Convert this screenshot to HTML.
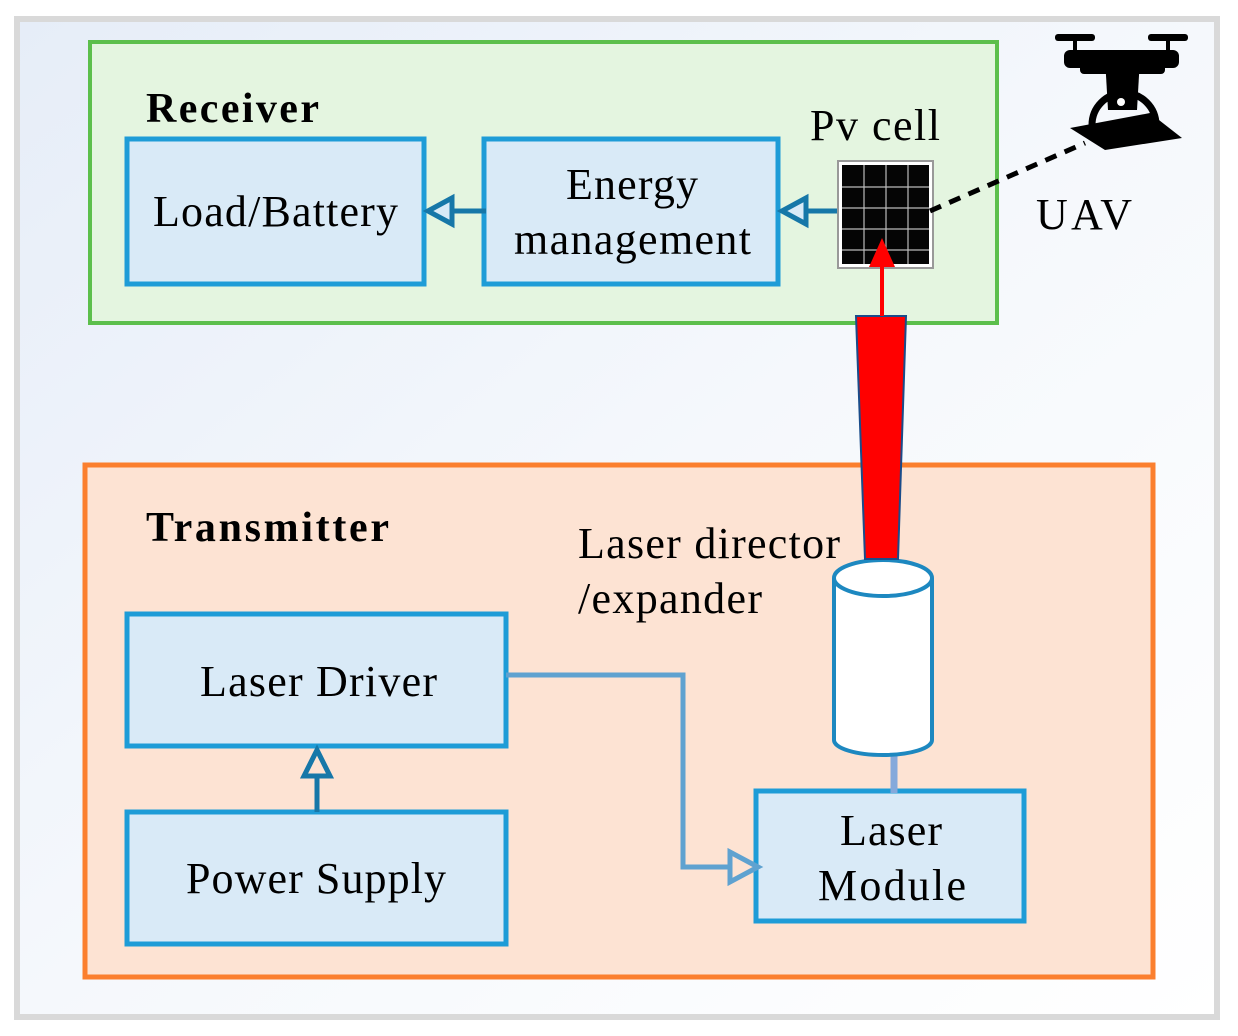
<!DOCTYPE html>
<html><head><style>
html,body{margin:0;padding:0;background:#fff;}
svg{display:block;}
text{font-family:"Liberation Serif",serif;fill:#000;}
</style></head><body>
<svg width="1238" height="1036" viewBox="0 0 1238 1036" xmlns="http://www.w3.org/2000/svg">
<defs>
<linearGradient id="bg" x1="0" y1="0" x2="1" y2="1">
<stop offset="0" stop-color="#e6edf8"/><stop offset="0.5" stop-color="#f5f8fc"/><stop offset="1" stop-color="#ffffff"/>
</linearGradient>
</defs>
<rect x="0" y="0" width="1238" height="1036" fill="#fff"/>
<rect x="17" y="19" width="1200" height="998" fill="url(#bg)" stroke="#d9d9d9" stroke-width="6"/>
<!-- Receiver -->
<rect x="90" y="42" width="907" height="281" fill="#e4f5e0" stroke="#5cbf4c" stroke-width="4"/>
<text x="146" y="122" font-size="42" font-weight="bold" textLength="173" lengthAdjust="spacing">Receiver</text>
<rect x="127" y="139" width="297" height="145" fill="#d9eaf7" stroke="#1e9cd7" stroke-width="5"/>
<text x="153" y="226" font-size="44" textLength="245" lengthAdjust="spacing">Load/Battery</text>
<rect x="484" y="139" width="294" height="145" fill="#d9eaf7" stroke="#1e9cd7" stroke-width="5"/>
<text x="566" y="199" font-size="44" textLength="132" lengthAdjust="spacing">Energy</text>
<text x="514" y="254" font-size="44" textLength="237" lengthAdjust="spacing">management</text>
<text x="810" y="140" font-size="44" textLength="130" lengthAdjust="spacing">Pv cell</text>
<!-- arrows receiver -->
<line x1="486" y1="211" x2="452" y2="211" stroke="#1677a8" stroke-width="5"/>
<polygon points="428,211 452,198 452,224" fill="#d9eaf7" stroke="#1677a8" stroke-width="5"/>
<line x1="840" y1="211" x2="806" y2="211" stroke="#1677a8" stroke-width="5"/>
<polygon points="782,211 806,198 806,224" fill="#d9eaf7" stroke="#1677a8" stroke-width="5"/>
<!-- PV cell -->
<rect x="838" y="161" width="95" height="107" fill="#fff" stroke="#999" stroke-width="2"/>
<rect x="842" y="165" width="87" height="99" fill="#050505"/>
<g stroke="#bbb" stroke-width="1.2">
<line x1="864" y1="165" x2="864" y2="264"/><line x1="886" y1="165" x2="886" y2="264"/><line x1="908" y1="165" x2="908" y2="264"/>
<line x1="842" y1="187" x2="929" y2="187"/><line x1="842" y1="208" x2="929" y2="208"/><line x1="842" y1="229" x2="929" y2="229"/><line x1="842" y1="250" x2="929" y2="250"/>
</g>
<!-- dashed to UAV -->
<line x1="930" y1="211" x2="1085" y2="143" stroke="#000" stroke-width="5" stroke-dasharray="12,9"/>
<!-- UAV icon -->
<g fill="#000">
<rect x="1055" y="34" width="40" height="7" rx="3"/><rect x="1148" y="34" width="40" height="7" rx="3"/>
<rect x="1073" y="40" width="4" height="12"/><rect x="1166" y="40" width="4" height="12"/>
<rect x="1064" y="50" width="115" height="18" rx="6"/>
<rect x="1080" y="60" width="85" height="14" rx="4"/>
<polygon points="1105,58 1140,58 1137,110 1108,110"/>
<path d="M1092,125 A32,32 0 0 1 1156,125" fill="none" stroke="#000" stroke-width="7"/>
<polygon points="1070,128 1150,113 1182,138 1105,150"/>
</g>
<circle cx="1121" cy="102" r="4" fill="#fff"/>
<text x="1036" y="229" font-size="44" textLength="96" lengthAdjust="spacing">UAV</text>
<!-- Transmitter -->
<rect x="85" y="465" width="1068" height="512" fill="#fde3d3" stroke="#fb7f2e" stroke-width="5"/>
<text x="146" y="541" font-size="42" font-weight="bold" textLength="243" lengthAdjust="spacing">Transmitter</text>
<text x="578" y="558" font-size="44" textLength="262" lengthAdjust="spacing">Laser director</text>
<text x="578" y="613" font-size="44" textLength="184" lengthAdjust="spacing">/expander</text>
<rect x="127" y="614" width="379" height="132" fill="#d9eaf7" stroke="#1e9cd7" stroke-width="5"/>
<text x="200" y="696" font-size="44" textLength="237" lengthAdjust="spacing">Laser Driver</text>
<rect x="127" y="812" width="379" height="132" fill="#d9eaf7" stroke="#1e9cd7" stroke-width="5"/>
<text x="186" y="893" font-size="44" textLength="260" lengthAdjust="spacing">Power Supply</text>
<rect x="756" y="791" width="268" height="130" fill="#d9eaf7" stroke="#1e9cd7" stroke-width="5"/>
<text x="840" y="845" font-size="44" textLength="102" lengthAdjust="spacing">Laser</text>
<text x="818" y="900" font-size="44" textLength="148" lengthAdjust="spacing">Module</text>
<!-- power->driver arrow -->
<line x1="317" y1="812" x2="317" y2="776" stroke="#1677a8" stroke-width="5"/>
<polygon points="317,750 304,776 330,776" fill="#fde3d3" stroke="#1677a8" stroke-width="5"/>
<!-- driver -> module -->
<polyline points="506,675 683,675 683,867 732,867" fill="none" stroke="#5fa2d0" stroke-width="5"/>
<polygon points="758,867 730,852 730,882" fill="#fde3d3" stroke="#5fa2d0" stroke-width="5"/>
<!-- cylinder -->
<line x1="894" y1="752" x2="894" y2="793" stroke="#85a9db" stroke-width="7"/>
<path d="M834,578 L834,740 A49,15 0 0 0 932,740 L932,578" fill="#fff" stroke="#1d88c0" stroke-width="4"/>
<ellipse cx="883" cy="578" rx="49" ry="18" fill="#fff" stroke="#1d88c0" stroke-width="4"/>
<!-- beam -->
<polygon points="856,316 906,316 898,559 865,559" fill="#ff0000" stroke="#1a4c8a" stroke-width="2"/>
<line x1="882" y1="316" x2="882" y2="265" stroke="#ff0000" stroke-width="4"/>
<polygon points="882,238 869,267 895,267" fill="#ff0000"/>
</svg>
</body></html>
